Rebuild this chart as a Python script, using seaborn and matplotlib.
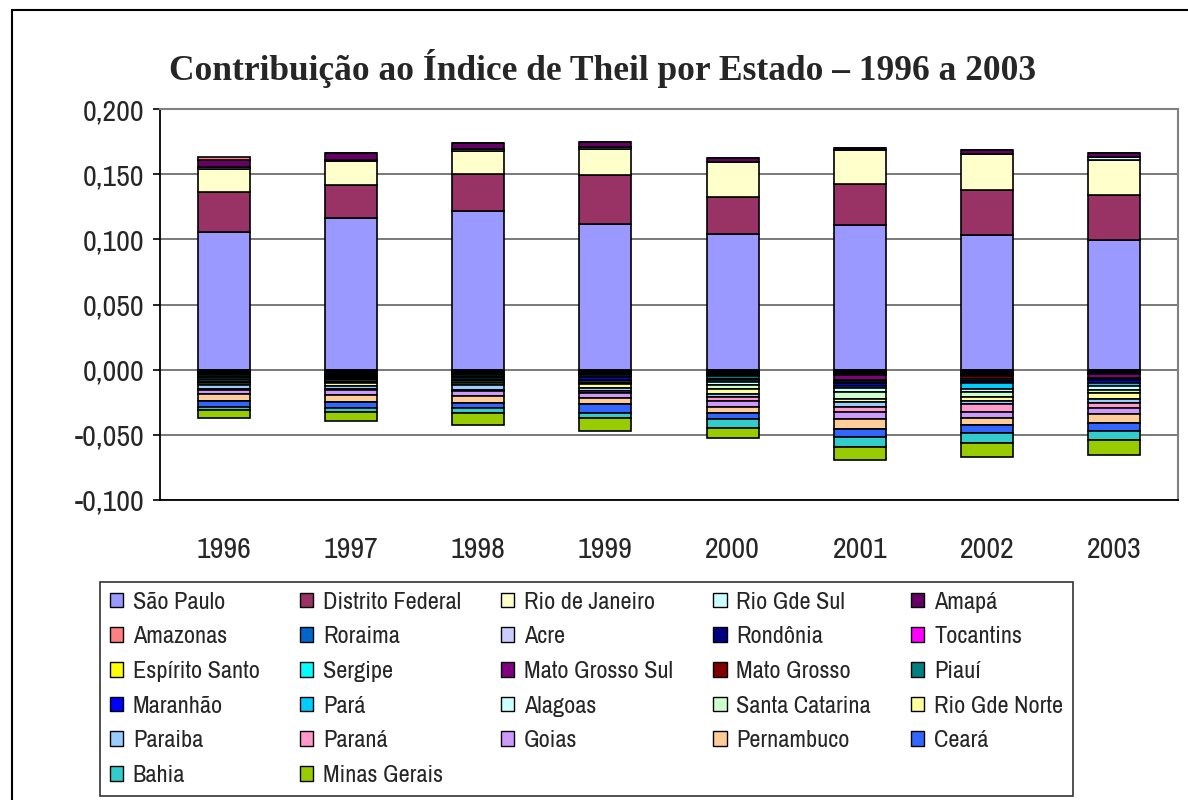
import numpy as np
import matplotlib
matplotlib.use("Agg")
import matplotlib.pyplot as plt
import seaborn as sns
from matplotlib.patches import Rectangle, Patch
from matplotlib.ticker import MultipleLocator, FuncFormatter

years = ["1996", "1997", "1998", "1999", "2000", "2001", "2002", "2003"]

states = ["São Paulo", "Distrito Federal", "Rio de Janeiro", "Rio Gde Sul", "Amapá",
          "Amazonas", "Roraima", "Acre", "Rondônia", "Tocantins",
          "Espírito Santo", "Sergipe", "Mato Grosso Sul", "Mato Grosso", "Piauí",
          "Maranhão", "Pará", "Alagoas", "Santa Catarina", "Rio Gde Norte",
          "Paraiba", "Paraná", "Goias", "Pernambuco", "Ceará",
          "Bahia", "Minas Gerais"]

colors = ["#9999FF", "#993366", "#FFFFCC", "#CCFFFF", "#660066",
          "#FF8080", "#0066CC", "#CCCCFF", "#000080", "#FF00FF",
          "#FFFF00", "#00FFFF", "#800080", "#800000", "#008080",
          "#0000FF", "#00CCFF", "#CCFFFF", "#CCFFCC", "#FFFF99",
          "#99CCFF", "#FF99CC", "#CC99FF", "#FFCC99", "#3366FF",
          "#33CCCC", "#99CC00"]

sao_paulo = [0.1060, 0.1160, 0.1220, 0.1120, 0.1040, 0.1110, 0.1030, 0.0995]
distrito_federal = [0.0300, 0.0255, 0.0284, 0.0370, 0.0285, 0.0317, 0.0348, 0.0343]
rio_de_janeiro = [0.0180, 0.0185, 0.0172, 0.0200, 0.0265, 0.0258, 0.0277, 0.0274]
rio_gde_sul = [0.0015, 0.0008, 0.0020, 0.0016, 0.0000, 0.0000, 0.0000, 0.0020]
amapa = [0.0055, 0.0055, 0.0044, 0.0044, 0.0032, 0.0013, 0.0031, 0.0030]
amazonas = [0.0020, 0.0000, 0.0000, 0.0000, 0.0000, 0.0000, 0.0000, 0.0000]
roraima = [-0.0008, -0.0010, -0.0008, -0.0008, -0.0010, -0.0008, -0.0008, -0.0006]
acre = [-0.0005, -0.0005, -0.0004, -0.0005, -0.0006, -0.0006, -0.0006, -0.0005]
rondonia = [-0.0006, -0.0015, -0.0006, -0.0008, -0.0010, -0.0015, -0.0010, -0.0015]
tocantins = [-0.0003, -0.0003, -0.0003, -0.0003, -0.0004, -0.0004, -0.0004, -0.0003]
espirito_santo = [-0.0004, -0.0003, -0.0003, -0.0003, -0.0004, -0.0004, -0.0004, -0.0003]
sergipe = [-0.0006, -0.0005, -0.0005, -0.0006, -0.0006, -0.0006, -0.0010, -0.0005]
mato_grosso_sul = [-0.0004, -0.0006, -0.0005, -0.0006, -0.0006, -0.0035, -0.0006, -0.0028]
mato_grosso = [-0.0005, -0.0006, -0.0005, -0.0005, -0.0006, -0.0006, -0.0020, -0.0006]
piaui = [-0.0012, -0.0008, -0.0015, -0.0015, -0.0016, -0.0015, -0.0020, -0.0010]
maranhao = [-0.0008, -0.0012, -0.0010, -0.0018, -0.0014, -0.0025, -0.0018, -0.0018]
para = [-0.0020, -0.0008, -0.0012, -0.0012, -0.0015, -0.0020, -0.0043, -0.0024]
alagoas = [-0.0012, -0.0010, -0.0012, -0.0012, -0.0020, -0.0030, -0.0026, -0.0031]
santa_catarina = [-0.0008, -0.0012, -0.0015, -0.0012, -0.0032, -0.0051, -0.0031, -0.0028]
rio_gde_norte = [-0.0017, -0.0020, -0.0018, -0.0025, -0.0038, -0.0026, -0.0033, -0.0041]
paraiba = [-0.0031, -0.0026, -0.0033, -0.0026, -0.0026, -0.0036, -0.0026, -0.0031]
parana = [-0.0005, -0.0010, -0.0012, -0.0015, -0.0031, -0.0041, -0.0059, -0.0038]
goias = [-0.0036, -0.0033, -0.0038, -0.0036, -0.0046, -0.0054, -0.0044, -0.0049]
pernambuco = [-0.0051, -0.0054, -0.0051, -0.0051, -0.0041, -0.0077, -0.0054, -0.0067]
ceara = [-0.0046, -0.0046, -0.0038, -0.0067, -0.0051, -0.0054, -0.0064, -0.0064]
bahia = [-0.0020, -0.0033, -0.0038, -0.0036, -0.0064, -0.0079, -0.0074, -0.0064]
minas_gerais = [-0.0064, -0.0070, -0.0092, -0.0105, -0.0079, -0.0100, -0.0108, -0.0118]

series = [sao_paulo, distrito_federal, rio_de_janeiro, rio_gde_sul, amapa,
          amazonas, roraima, acre, rondonia, tocantins,
          espirito_santo, sergipe, mato_grosso_sul, mato_grosso, piaui,
          maranhao, para, alagoas, santa_catarina, rio_gde_norte,
          paraiba, parana, goias, pernambuco, ceara,
          bahia, minas_gerais]

title = "Contribuição ao Índice de Theil por Estado – 1996 a 2003"

sns.set_style("white")
plt.rcParams['font.family'] = ['Archivo Narrow', 'Liberation Sans', 'DejaVu Sans']

W, H = 1188, 800
fig = plt.figure(figsize=(W / 100, H / 100), dpi=100)
ax = fig.add_axes([160 / W, 1 - 500 / H, 1018 / W, 391 / H])

pos_base = np.zeros(len(years))
neg_base = np.zeros(len(years))
for vals, col in zip(series, colors):
    v = np.array(vals, dtype=float)
    bottom = np.where(v >= 0, pos_base, neg_base)
    sns.barplot(x=years, y=v, bottom=bottom, color=col, saturation=1,
                edgecolor="black", linewidth=1.2, width=0.41,
                errorbar=None, ax=ax, zorder=3)
    pos_base += np.where(v > 0, v, 0)
    neg_base += np.where(v < 0, v, 0)

ax.set_ylim(-0.1, 0.2)
ax.set_xlim(-0.5, len(years) - 0.5)
ax.yaxis.set_major_locator(MultipleLocator(0.05))


def fmt(val, pos):
    if abs(val) < 1e-9:
        val = 0.0
    return f"{val:.3f}".replace(".", ",")


ax.yaxis.set_major_formatter(FuncFormatter(fmt))
ax.yaxis.grid(True, color="#555555", linewidth=1.1, zorder=0)
ax.xaxis.grid(False)
ax.set_axisbelow(True)
ax.set_xlabel("")
ax.set_ylabel("")

ax.set_xticks(range(len(years)))
ax.set_xticklabels(years)
ax.set_xticks(np.arange(-0.5, len(years), 1.0), minor=True)
ax.tick_params(axis="x", which="major", length=0, pad=26, labelsize=21.5)
ax.tick_params(axis="x", which="minor", length=8, width=1.2, color="black", direction="out")
ax.tick_params(axis="y", which="major", length=5, width=1.2, color="black",
               direction="out", left=True, pad=6, labelsize=21.5)

for s in ["left", "bottom"]:
    ax.spines[s].set_color("black")
    ax.spines[s].set_linewidth(1.3)
for s in ["top", "right"]:
    ax.spines[s].set_color("#808080")
    ax.spines[s].set_linewidth(1.5)

fig.text(603 / W, 1 - 68 / H, title, ha="center", va="center",
         fontsize=25.5, fontweight="bold", family=["Liberation Serif", "DejaVu Serif"])

ncol = 5
nrow = int(np.ceil(len(states) / ncol))
order = [r * ncol + c for c in range(ncol) for r in range(nrow) if r * ncol + c < len(states)]
handles = [Patch(facecolor=colors[i], edgecolor="black", linewidth=1.0) for i in order]
labels = [states[i] for i in order]
leg = fig.legend(handles, labels, ncol=ncol, loc="upper left",
                 bbox_to_anchor=(100 / W, 1 - 582 / H),
                 frameon=True, fancybox=False, edgecolor="black",
                 fontsize=17.5, handlelength=0.55, handleheight=0.55,
                 handletextpad=0.4, labelspacing=0.56, columnspacing=1.65,
                 borderpad=0.4, borderaxespad=0)
leg.get_frame().set_linewidth(1.2)

fig.patches.append(Rectangle((12 / W, -0.05), 1.2, 1 - 10 / H + 0.05,
                             transform=fig.transFigure, fill=False,
                             edgecolor="black", linewidth=1.5))

fig.savefig("out.png", dpi=100)
